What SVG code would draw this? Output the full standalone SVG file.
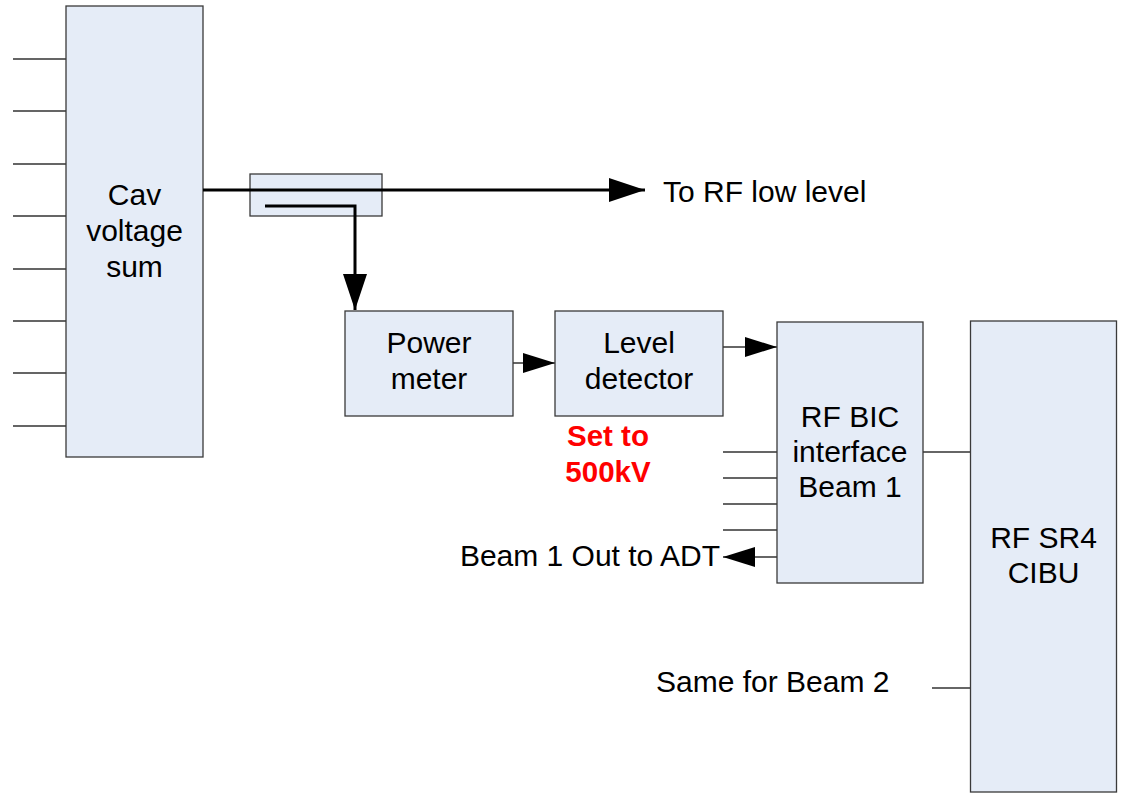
<svg xmlns="http://www.w3.org/2000/svg" width="1122" height="793" viewBox="0 0 1122 793">
<style>
.box{fill:#E5ECF7;stroke:#3a3a3a;stroke-width:1.3}
.t{font-family:"Liberation Sans",Arial,sans-serif;font-size:30px;fill:#000;text-anchor:middle}
.red{font-family:"Liberation Sans",Arial,sans-serif;font-size:29.5px;font-weight:bold;fill:#FF0000;text-anchor:middle}
.thin{stroke:#333;stroke-width:1.3;fill:none}
.thick{stroke:#000;stroke-width:3;fill:none}
</style>
<defs>
<marker id="big" markerUnits="userSpaceOnUse" markerWidth="36" markerHeight="24" refX="36" refY="12" orient="auto">
<path d="M0,0 L36,12 L0,24 z" fill="#000"/>
</marker>
<marker id="small" markerUnits="userSpaceOnUse" markerWidth="32" markerHeight="20" refX="32" refY="10" orient="auto">
<path d="M0,0 L32,10 L0,20 z" fill="#000"/>
</marker>
</defs>
<rect width="1122" height="793" fill="#fff"/>
<g id="connectors">
<path class="thin" d="M13,59H66M13,111H66M13,164H66M13,216H66M13,269H66M13,321H66M13,373H66M13,426H66"/>
<path class="thin" d="M723,452H777M723,478H777M723,504H777M723,530H777"/>
<path class="thin" d="M923,452H970"/>
<path class="thin" d="M932,688H970"/>
<path class="thin" d="M513,363H555" marker-end="url(#small)"/>
<path class="thin" d="M723,347H777" marker-end="url(#small)"/>
<path class="thin" d="M777,557H723" marker-end="url(#small)"/>
</g>
<g id="cav">
<rect class="box" x="66" y="6" width="137" height="451"/>
<text class="t" x="134.5" y="205">Cav</text>
<text class="t" x="134.5" y="241">voltage</text>
<text class="t" x="134.5" y="277">sum</text>
</g>
<g id="coupler">
<rect class="box" x="250" y="174" width="132" height="42"/>
</g>
<g id="main-lines">
<path class="thick" d="M203,190H645" marker-end="url(#big)"/>
<path class="thick" d="M265,206H355V310" marker-end="url(#big)"/>
</g>
<g id="power">
<rect class="box" x="345" y="311" width="168" height="105"/>
<text class="t" x="429" y="353">Power</text>
<text class="t" x="429" y="389">meter</text>
</g>
<g id="level">
<rect class="box" x="555" y="311" width="168" height="105"/>
<text class="t" x="639" y="353">Level</text>
<text class="t" x="639" y="389">detector</text>
</g>
<g id="bic">
<rect class="box" x="777" y="322" width="146" height="261"/>
<text class="t" x="850" y="427">RF BIC</text>
<text class="t" x="850" y="462">interface</text>
<text class="t" x="850" y="497">Beam 1</text>
</g>
<g id="cibu">
<rect class="box" x="970.5" y="321" width="146" height="471"/>
<text class="t" x="1043.5" y="548">RF SR4</text>
<text class="t" x="1043.5" y="583">CIBU</text>
</g>
<g id="labels">
<text class="t" x="663" y="202" style="text-anchor:start">To RF low level</text>
<text class="red" x="608" y="446">Set to</text>
<text class="red" x="608" y="482">500kV</text>
<text class="t" x="720" y="566" style="text-anchor:end">Beam 1 Out to ADT</text>
<text class="t" x="656" y="692" style="text-anchor:start">Same for Beam 2</text>
</g>
</svg>
